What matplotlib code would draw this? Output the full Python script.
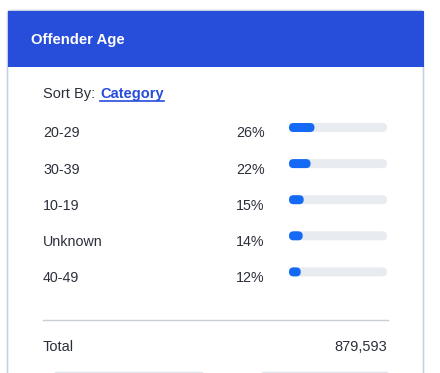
import matplotlib
matplotlib.use("Agg")
import matplotlib.pyplot as plt
from matplotlib.patches import FancyBboxPatch, Rectangle

title = "Offender Age"
sort_label = "Sort By:"
sort_value = "Category"
categories = ["20-29", "30-39", "10-19", "Unknown", "40-49"]
percents = [26, 22, 15, 14, 12]
total_label = "Total"
total_value = "879,593"

W, H = 440, 373
fig = plt.figure(figsize=(W / 100, H / 100), dpi=100)
fig.patch.set_facecolor("white")
ax = fig.add_axes([0, 0, 1, 1])
ax.set_xlim(0, W)
ax.set_ylim(H, 0)
ax.axis("off")

plt.rcParams["font.family"] = ["Liberation Sans", "DejaVu Sans"]
txt = "#2b2f3a"

# card
ax.add_patch(FancyBboxPatch((7.5, 10.5), 416, 400, boxstyle="round,pad=0,rounding_size=3",
                            fc="white", ec="#c8d2e4", lw=1.2, zorder=1))
ax.add_patch(Rectangle((7.5, 10.5), 416, 56.5, fc="#274ddb", ec="none", zorder=2))
ax.text(31, 40, title, color="white", fontsize=10.7, fontweight="bold", va="center", ha="left", zorder=3)

ax.text(43, 94, sort_label, color=txt, fontsize=10.5, va="center", ha="left")
ax.text(100, 94, sort_value, color="#274ddb", fontsize=10.5, fontweight="bold", va="center", ha="left")
ax.plot([100, 164], [100.8, 100.8], color="#274ddb", lw=1.2)

row_y = [133, 170, 206, 242, 278]
for cat, p, y in zip(categories, percents, row_y):
    ax.text(43, y, cat, color=txt, fontsize=10.3, va="center", ha="left")
    ax.text(264.5, y, f"{p}%", color=txt, fontsize=10.3, va="center", ha="right")

# bars in an inset axes
x0, x1 = 289, 387
top, bot = 110, 290
bax = fig.add_axes([x0 / W, 1 - bot / H, (x1 - x0) / W, (bot - top) / H])
bax.set_xlim(0, 100)
bax.axis("off")
pos = list(range(len(categories)))
first_center = 127.5
spacing = 36.1
lo = -(first_center - top) / spacing
hi = lo + (bot - top) / spacing
bax.set_ylim(hi, lo)
h = 9 / spacing
tracks = bax.barh(pos, [100] * len(pos), height=h, color="#e8ebef")
fills = bax.barh(pos, percents, height=h, color="#1469f5")
r_x = 4.5 * 100 / (x1 - x0)
aspect = (4.5 / spacing) / r_x
for bars in (tracks, fills):
    for b in bars:
        fb = FancyBboxPatch((b.get_x(), b.get_y()), b.get_width(), b.get_height(),
                            boxstyle=f"round,pad=0,rounding_size={r_x}",
                            mutation_aspect=aspect, fc=b.get_facecolor(), ec="none",
                            zorder=b.get_zorder())
        b.set_visible(False)
        bax.add_patch(fb)

# divider and total
ax.plot([43, 388], [319.5, 319.5], color="#c9cdd4", lw=1)
ax.text(43, 347, total_label, color=txt, fontsize=10.5, va="center", ha="left")
ax.text(387.5, 347, total_value, color=txt, fontsize=10.5, va="center", ha="right")

# bottom partial elements
ax.add_patch(Rectangle((55, 371.5), 147, 5, fc="white", ec="#dfe3ea", lw=1))
ax.add_patch(Rectangle((262, 371.5), 125, 5, fc="white", ec="#dfe3ea", lw=1))

fig.savefig("out.png", dpi=100)
